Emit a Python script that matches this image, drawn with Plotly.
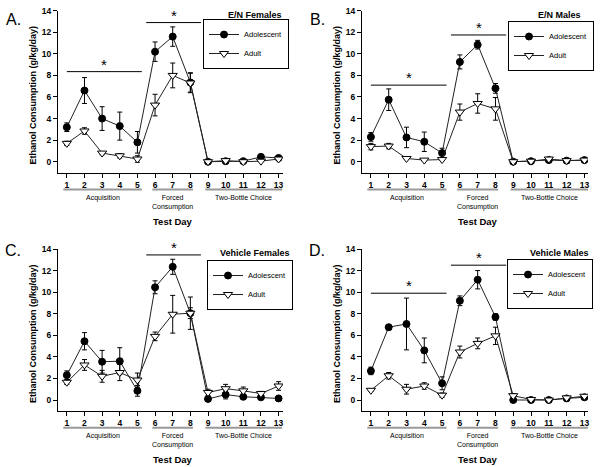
import plotly.graph_objects as go

# ---------------- data ----------------
days = list(range(1, 14))
day_labels = [str(d) for d in days]
series_names = ["Adolescent", "Adult"]
panel_letters = ["A.", "B.", "C.", "D."]
panel_titles = ["E/N Females", "E/N Males", "Vehicle Females", "Vehicle Males"]
phase_names = ["Acquisition", "Forced<br>Consumption", "Two-Bottle Choice"]
phase_spans = [[0.8, 5.25], [5.85, 8.15], [8.85, 13.2]]
y_ticks = [0, 2, 4, 6, 8, 10, 12, 14]
y_title = "Ethanol Consumption (g/kg/day)"
x_title = "Test Day"

A_adol = [3.2, 6.6, 4.0, 3.3, 1.8, 10.2, 11.6, 7.35, 0.0, 0.05, 0.05, 0.45, 0.35]
A_adol_err = [0.4, 1.2, 1.1, 1.3, 1.0, 0.9, 0.9, 0.9, 0.05, 0.05, 0.05, 0.15, 0.1]
A_adult = [1.7, 2.85, 0.8, 0.55, 0.25, 5.25, 8.0, 7.3, 0.0, 0.1, 0.0, 0.05, 0.25]
A_adult_err = [0.2, 0.3, 0.15, 0.2, 0.3, 1.0, 1.15, 0.9, 0.05, 0.05, 0.05, 0.05, 0.1]

B_adol = [2.3, 5.75, 2.25, 1.85, 0.8, 9.25, 10.85, 6.8, 0.0, 0.05, 0.15, 0.1, 0.15]
B_adol_err = [0.4, 1.0, 0.95, 0.9, 0.45, 0.65, 0.4, 0.45, 0.05, 0.05, 0.05, 0.05, 0.05]
B_adult = [1.4, 1.45, 0.3, 0.15, 0.2, 4.6, 5.4, 4.9, 0.0, 0.05, 0.25, 0.1, 0.15]
B_adult_err = [0.3, 0.25, 0.1, 0.05, 0.05, 0.75, 0.9, 1.05, 0.05, 0.05, 0.1, 0.05, 0.05]

C_adol = [2.3, 5.45, 3.55, 3.6, 0.85, 10.45, 12.35, 8.05, 0.1, 0.5, 0.3, 0.25, 0.15]
C_adol_err = [0.4, 0.8, 1.05, 1.25, 0.5, 0.6, 0.7, 0.5, 0.1, 0.4, 0.1, 0.1, 0.05]
C_adult = [1.65, 3.25, 2.2, 2.55, 1.85, 5.9, 7.95, 8.05, 0.7, 1.05, 0.85, 0.6, 1.3]
C_adult_err = [0.2, 0.5, 0.55, 0.75, 0.65, 0.4, 1.75, 1.5, 0.3, 0.4, 0.35, 0.2, 0.4]

D_adol = [2.7, 6.75, 7.05, 4.6, 1.55, 9.2, 11.15, 7.7, 0.0, 0.0, 0.0, 0.15, 0.25]
D_adol_err = [0.35, 0.25, 2.4, 1.15, 0.6, 0.45, 0.85, 0.3, 0.05, 0.05, 0.05, 0.05, 0.05]
D_adult = [0.9, 2.25, 1.0, 1.3, 0.45, 4.45, 5.25, 5.95, 0.4, 0.05, 0.0, 0.2, 0.35]
D_adult_err = [0.1, 0.3, 0.45, 0.3, 0.2, 0.55, 0.5, 0.8, 0.2, 0.05, 0.05, 0.05, 0.1]

# significance bars: [x_start, x_end, y_level]
A_sig = [[1.0, 5.25, 8.35], [5.5, 8.6, 12.9]]
B_sig = [[1.0, 5.25, 7.1], [5.5, 8.6, 11.75]]
C_sig = [[5.5, 8.6, 13.45]]
D_sig = [[1.0, 5.25, 9.9], [5.5, 8.6, 12.5]]

panel_data = [
    (A_adol, A_adol_err, A_adult, A_adult_err, A_sig),
    (B_adol, B_adol_err, B_adult, B_adult_err, B_sig),
    (C_adol, C_adol_err, C_adult, C_adult_err, C_sig),
    (D_adol, D_adol_err, D_adult, D_adult_err, D_sig),
]

# ---------------- layout geometry (pixels) ----------------
W, H = 600, 467
FONT = "Liberation Sans, Arial, sans-serif"
INK = "black"
col_px = [(58, 283), (362, 588)]
row_px = [(10.7, 172.5), (249, 410.8)]
x_ranges = [[0.5, 13.25], [0.5, 13.2]]
legend_anchor = [(289, 19), (594, 21), (293, 260), (593, 259)]
legend_title_pos = [(255, 15), (559, 15), (254.5, 253), (559, 253)]
letter_pos = [(13, 20), (317, 20), (13, 251), (317, 250)]


def px(x):
    return x / W


def py(y):
    return 1 - y / H


def f(size, bold=False):
    d = dict(family=FONT, size=size, color=INK)
    if bold:
        d["weight"] = "bold"
    return d


fig = go.Figure()
layout = dict(
    template="none",
    width=W, height=H, margin=dict(l=0, r=0, t=0, b=0),
    paper_bgcolor="white", plot_bgcolor="white",
    font=f(9),
)
shapes = []
annotations = []

for i, (adol, adol_err, adult, adult_err, sig) in enumerate(panel_data):
    r, c = divmod(i, 2)
    sfx = "" if i == 0 else str(i + 1)
    xa, ya = "x" + sfx, "y" + sfx
    leg = "legend" + sfx
    top, bot = row_px[r]
    left, right = col_px[c]

    fig.add_trace(go.Scatter(
        x=days, y=adol, name=series_names[0], mode="lines+markers",
        xaxis=xa, yaxis=ya, legend=leg,
        line=dict(color="#222222", width=1),
        marker=dict(symbol="circle", size=7, color="black", line=dict(color="black", width=1)),
        error_y=dict(type="data", array=adol_err, visible=True, color="black", thickness=1, width=2.5),
    ))
    fig.add_trace(go.Scatter(
        x=days, y=adult, name=series_names[1], mode="lines+markers",
        xaxis=xa, yaxis=ya, legend=leg,
        line=dict(color="#222222", width=1),
        marker=dict(symbol="triangle-down", size=8, color="white", line=dict(color="black", width=1)),
        error_y=dict(type="data", array=adult_err, visible=True, color="black", thickness=1, width=2.5),
    ))

    axis_common = dict(
        ticks="outside", ticklen=4, tickwidth=1, tickcolor=INK,
        showline=True, linecolor=INK, linewidth=1, showgrid=False, zeroline=False,
        tickfont=f(8.5, True), fixedrange=True, mirror=False,
    )
    layout["xaxis" + sfx] = dict(
        domain=[px(left), px(right)], range=x_ranges[c], anchor=ya,
        tickmode="array", tickvals=days, ticktext=day_labels, **axis_common,
    )
    layout["yaxis" + sfx] = dict(
        domain=[py(bot), py(top)], range=[-1, 14], anchor=xa,
        tickmode="array", tickvals=y_ticks, ticktext=[str(t) for t in y_ticks], **axis_common,
    )
    lx, ly = legend_anchor[i]
    layout[leg] = dict(
        x=px(lx), y=py(ly), xanchor="right", yanchor="top",
        bordercolor=INK, borderwidth=1, bgcolor="white",
        font=f(7.5), tracegroupgap=0, itemclick=False, itemdoubleclick=False,
    )
    tx, ty = legend_title_pos[i]
    annotations.append(dict(
        text=panel_titles[i], x=px(tx), y=py(ty), xref="paper", yref="paper",
        xanchor="center", yanchor="middle", showarrow=False, font=f(9, True),
    ))
    lx2, ly2 = letter_pos[i]
    annotations.append(dict(
        text=panel_letters[i], x=px(lx2), y=py(ly2), xref="paper", yref="paper",
        xanchor="center", yanchor="middle", showarrow=False, font=f(16),
    ))
    # axis titles
    annotations.append(dict(
        text=y_title, textangle=-90, x=px(left - 25), y=py((top + bot) / 2 + 4),
        xref="paper", yref="paper", xanchor="center", yanchor="middle", showarrow=False,
        font=f(9, True),
    ))
    annotations.append(dict(
        text=x_title, x=7, y=py(bot + 48.5), xref=xa, yref="paper",
        xanchor="center", yanchor="middle", showarrow=False, font=f(9.5, True),
    ))
    # phase lines and labels
    for name, (s0, s1) in zip(phase_names, phase_spans):
        shapes.append(dict(
            type="line", xref=xa, yref="paper", x0=s0, x1=s1,
            y0=py(bot + 17), y1=py(bot + 17),
            line=dict(color="#999999", width=2),
        ))
        annotations.append(dict(
            text=name, x=(s0 + s1) / 2, y=py(bot + 19.5), xref=xa, yref="paper",
            xanchor="center", yanchor="top", showarrow=False, font=f(7), align="center",
        ))
    # significance bars and stars
    for (s0, s1, lev) in sig:
        shapes.append(dict(
            type="line", xref=xa, yref=ya, x0=s0, x1=s1, y0=lev, y1=lev,
            line=dict(color=INK, width=1),
        ))
        annotations.append(dict(
            text="*", x=(s0 + s1) / 2, y=lev, xref=xa, yref=ya,
            xanchor="center", yanchor="bottom", yshift=-3, showarrow=False, font=f(15),
        ))

layout["shapes"] = shapes
layout["annotations"] = annotations
fig.update_layout(**layout)
fig.write_html(
    "out.html",
    config={"displayModeBar": False, "staticPlot": False},
    post_script="document.body.style.margin='0';document.body.style.padding='0';"
                "document.body.style.overflow='hidden';",
)
